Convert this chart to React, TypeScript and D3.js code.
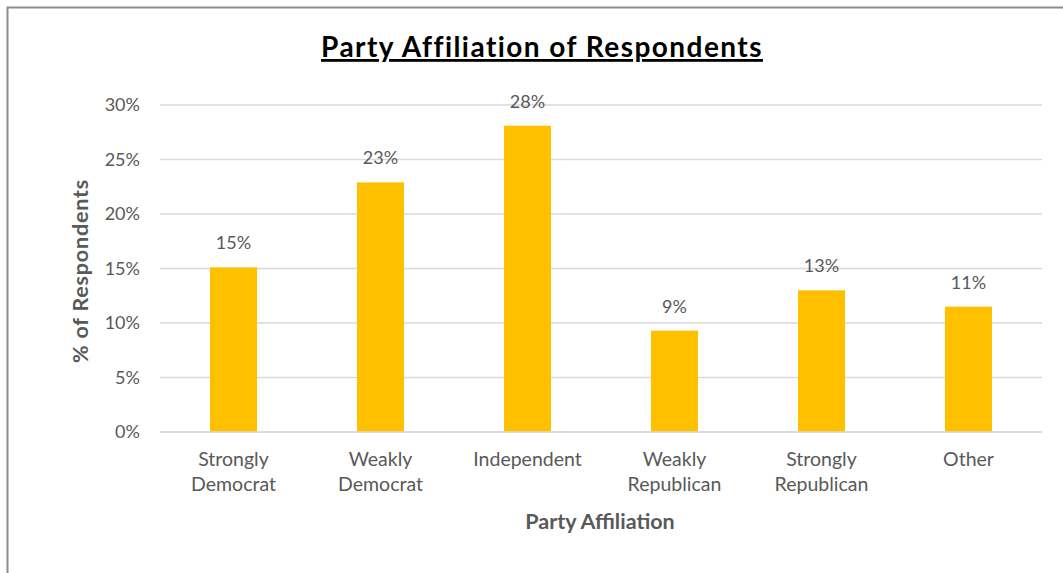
import React from "react";
import * as d3 from "d3";

const categories: string[][] = [
  ["Strongly", "Democrat"],
  ["Weakly", "Democrat"],
  ["Independent"],
  ["Weakly", "Republican"],
  ["Strongly", "Republican"],
  ["Other"],
];
const values: number[] = [15.1, 22.9, 28.1, 9.3, 13.0, 11.5];
const valueLabels: string[] = ["15%", "23%", "28%", "9%", "13%", "11%"];
const yTicks: number[] = [0, 5, 10, 15, 20, 25, 30];

const W = 1063;
const H = 573;
const FONT = "Lato, 'Open Sans', sans-serif";
const TXT = "#595959";

export default function App() {
  const left = 160, right = 1042, top = 105, bottom = 432;
  const x = d3.scaleBand<number>().domain(d3.range(categories.length)).range([left, right]).paddingInner(0.68).paddingOuter(0.34);
  const y = d3.scaleLinear().domain([0, 30]).range([bottom, top]);
  return (
    <svg width={W} height={H} style={{ position: "absolute", left: 0, top: 0, background: "#fff" }}>
      <rect x={7.5} y={7.5} width={W + 10} height={H + 10} fill="#fff" stroke="#8c8c8c" strokeWidth={2} />
      <text x={542} y={57} textAnchor="middle" fontFamily={FONT} fontWeight="bold" fontSize={28} letterSpacing={1.45} fill="#000" textDecoration="underline">
        Party Affiliation of Respondents
      </text>
      {yTicks.map((t) => (
        <g key={t}>
          <line x1={left} x2={right} y1={y(t)} y2={y(t)} stroke="#d9d9d9" strokeWidth={1.5} />
          <text x={140} y={y(t)} dy="0.35em" textAnchor="end" fontFamily={FONT} fontSize={18} fill={TXT}>
            {t}%
          </text>
        </g>
      ))}
      {values.map((v, i) => (
        <g key={i}>
          <rect x={x(i)} y={y(v)} width={x.bandwidth()} height={y(0) - y(v)} fill="#FFC000" />
          <text x={(x(i) as number) + x.bandwidth() / 2} y={y(v) - 18} textAnchor="middle" fontFamily={FONT} fontSize={18} fill={TXT}>
            {valueLabels[i]}
          </text>
          {categories[i].map((line, j) => (
            <text key={j} x={(x(i) as number) + x.bandwidth() / 2} y={466 + j * 25} textAnchor="middle" fontFamily={FONT} fontSize={19.5} fill={TXT}>
              {line}
            </text>
          ))}
        </g>
      ))}
      <line x1={left} x2={right} y1={y(0)} y2={y(0)} stroke="#d9d9d9" strokeWidth={1.5} />
      <text x={600} y={529} textAnchor="middle" fontFamily={FONT} fontWeight="bold" fontSize={21.5} fill={TXT}>
        Party Affiliation
      </text>
      <text transform={`translate(88,271) rotate(-90)`} textAnchor="middle" fontFamily={FONT} fontWeight="bold" fontSize={21.5} letterSpacing={0.8} fill={TXT}>
        % of Respondents
      </text>
    </svg>
  );
}
